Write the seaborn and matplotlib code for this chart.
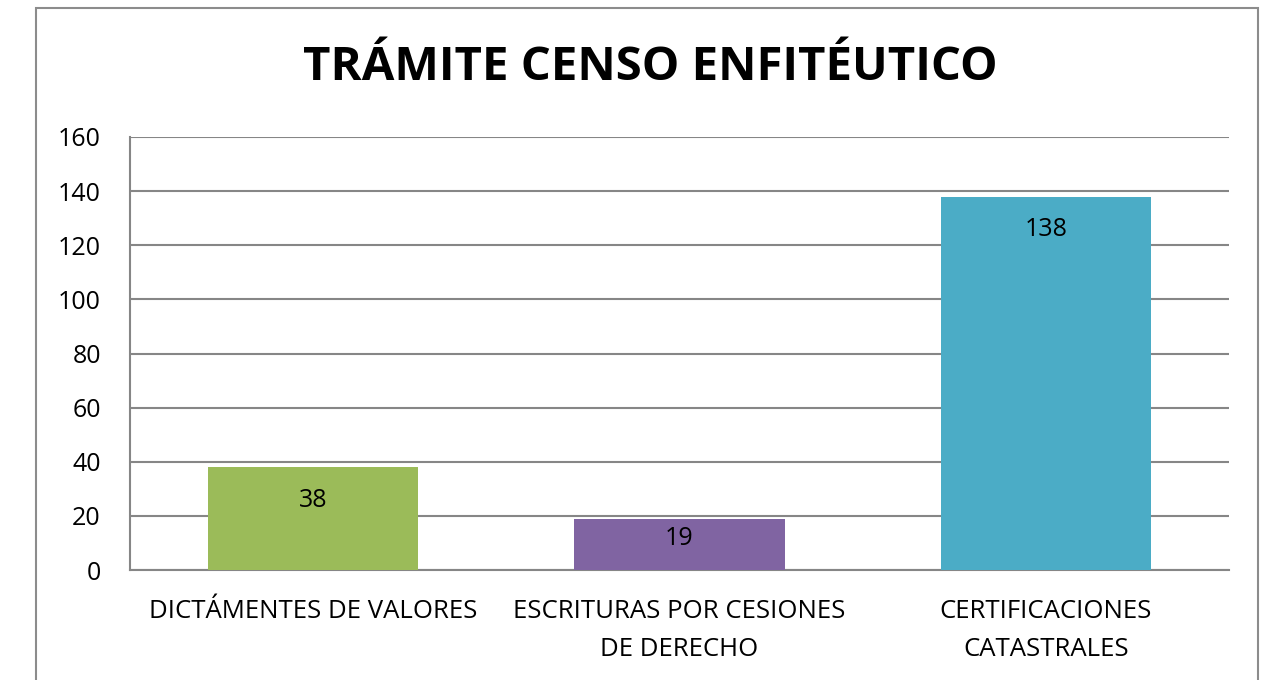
import seaborn as sns
import matplotlib.pyplot as plt
import pandas as pd
from matplotlib.patches import Rectangle

# data
categories = ['DICTÁMENTES DE VALORES', 'ESCRITURAS POR CESIONES\nDE DERECHO', 'CERTIFICACIONES\nCATASTRALES']
values = [38, 19, 138]
colors = ['#9BBB59', '#8064A2', '#4BACC6']
yticks = [0, 20, 40, 60, 80, 100, 120, 140, 160]

data = pd.DataFrame({'tramite': categories, 'total': values})

sns.set_style('white')
plt.rcParams['font.family'] = ['Open Sans', 'DejaVu Sans']

fig = plt.figure(figsize=(12.63, 6.8), dpi=100)
ax = fig.add_axes([130 / 1263, 110 / 680, 1099 / 1263, 433 / 680])

sns.barplot(data=data, x='tramite', y='total', hue='tramite', palette=colors,
            legend=False, width=0.575, saturation=1, linewidth=0, ax=ax, zorder=3)

ax.set_ylim(0, 160)
ax.set_yticks(yticks)
ax.set_xlim(-0.5, 2.5)
ax.yaxis.grid(True, color='#868686', linewidth=1.5, zorder=0)
ax.set_axisbelow(True)
for side in ['top', 'right']:
    ax.spines[side].set_visible(False)
for side in ['left', 'bottom']:
    ax.spines[side].set_color('#868686')
    ax.spines[side].set_linewidth(1.5)
ax.set_xlabel('')
ax.set_ylabel('')
ax.tick_params(axis='y', labelsize=18, colors='#000000', length=0, pad=21)
ax.tick_params(axis='x', labelsize=18.5, colors='#000000', length=0, pad=21)
for lbl in ax.get_xticklabels():
    lbl.set_linespacing(1.65)

# labels sit inside the bar end, but stay clear of the baseline for short bars
for i, v in enumerate(values):
    y = max(v - 12.2, 11.8)
    ax.text(i, y, str(v), ha='center', va='center', fontsize=18,
            color='#000000', zorder=4)

fig.text(650 / 1263, 1 - 67 / 680, 'TRÁMITE CENSO ENFITÉUTICO', ha='center', va='center',
         fontsize=34, fontweight='bold', color='#000000')

fig.patches.append(Rectangle((36 / 1263, -0.1), (1258 - 36) / 1263, 1.1 - 8 / 680,
                             transform=fig.transFigure, fill=False,
                             edgecolor='#8c8c8c', linewidth=1.5))

fig.savefig('out.png', dpi=100)
